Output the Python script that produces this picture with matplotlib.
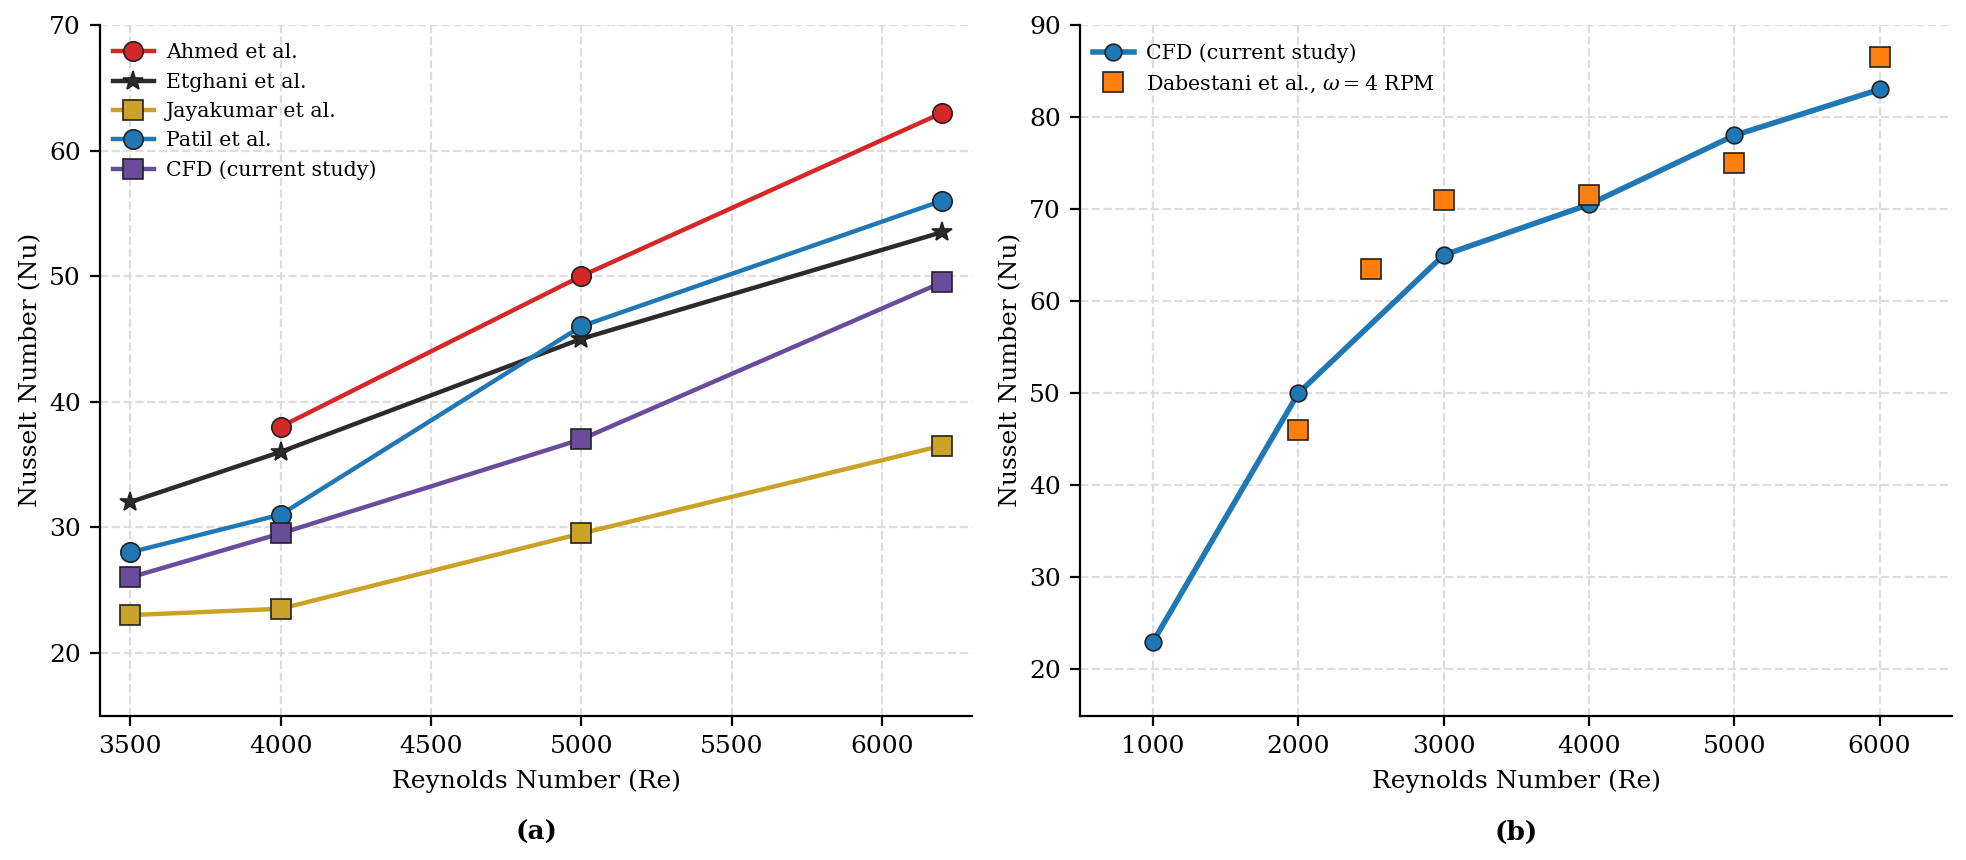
import numpy as np
import matplotlib
matplotlib.use("Agg")
import matplotlib.pyplot as plt

# ---- data: panel (a) ----
re_a = [3500, 4000, 5000, 6200]
re_ahmed = [4000, 5000, 6200]
nu_ahmed = [38, 50, 63]
nu_etghani = [32, 36, 45, 53.5]
nu_jayakumar = [23, 23.5, 29.5, 36.5]
nu_patil = [28, 31, 46, 56]
nu_cfd_a = [26, 29.5, 37, 49.5]

# ---- data: panel (b) ----
re_cfd_b = [1000, 2000, 3000, 4000, 5000, 6000]
nu_cfd_b = [23, 50, 65, 70.5, 78, 83]
re_dab = [2000, 2500, 3000, 4000, 5000, 6000]
nu_dab = [46, 63.5, 71, 71.5, 75, 86.5]

plt.rcParams["font.family"] = ["DejaVu Serif"]
plt.rcParams["mathtext.fontset"] = "dejavuserif"

fig, (ax1, ax2) = plt.subplots(1, 2, figsize=(9.83, 4.3), dpi=200)
fig.subplots_adjust(left=0.051, right=0.993, top=0.971, bottom=0.168, wspace=0.124)

ec = "#222222"
ax1.plot(re_ahmed, nu_ahmed, "-o", color="#d62728", lw=1.6, ms=7, mec=ec, mew=0.6, label="Ahmed et al.")
ax1.plot(re_a, nu_etghani, "-*", color="#2b2b2b", lw=1.6, ms=7.5, mec=ec, mew=0.6, label="Etghani et al.")
ax1.plot(re_a, nu_jayakumar, "-s", color="#c9a227", lw=1.6, ms=7, mec=ec, mew=0.6, label="Jayakumar et al.")
ax1.plot(re_a, nu_patil, "-o", color="#1f77b4", lw=1.6, ms=7, mec=ec, mew=0.6, label="Patil et al.")
ax1.plot(re_a, nu_cfd_a, "-s", color="#6a4c9c", lw=1.6, ms=7, mec=ec, mew=0.6, label="CFD (current study)")
ax1.set_xlim(3400, 6300)
ax1.set_ylim(15, 70)
ax1.set_xticks([3500, 4000, 4500, 5000, 5500, 6000])
ax1.set_yticks([20, 30, 40, 50, 60, 70])

ax2.plot(re_cfd_b, nu_cfd_b, "-o", color="#1f77b4", lw=2.0, ms=6, mec=ec, mew=0.6, label="CFD (current study)")
ax2.plot(re_dab, nu_dab, "s", color="#ff7f0e", ms=7, mec=ec, mew=0.6, label=r"Dabestani et al., $\omega = 4$ RPM")
ax2.set_xlim(500, 6500)
ax2.set_ylim(15, 90)
ax2.set_xticks([1000, 2000, 3000, 4000, 5000, 6000])
ax2.set_yticks([20, 30, 40, 50, 60, 70, 80, 90])

for ax, tag in ((ax1, "(a)"), (ax2, "(b)")):
    ax.grid(True, ls="--", color="#dddddd", lw=0.8)
    ax.set_axisbelow(True)
    ax.spines["top"].set_visible(False)
    ax.spines["right"].set_visible(False)
    ax.tick_params(labelsize=9, length=3.5, width=0.8)
    ax.set_xlabel("Reynolds Number (Re)", fontsize=9)
    ax.set_ylabel("Nusselt Number (Nu)", fontsize=9, labelpad=2.5)
    ax.legend(loc="upper left", bbox_to_anchor=(-0.007, 1.0), frameon=False,
              fontsize=7.4, handletextpad=0.6)
    pos = ax.get_position()
    fig.text((pos.x0 + pos.x1) / 2, 0.032, tag, ha="center", va="center",
             fontsize=9.5, fontweight="bold")

fig.savefig("out.png", dpi=200)
